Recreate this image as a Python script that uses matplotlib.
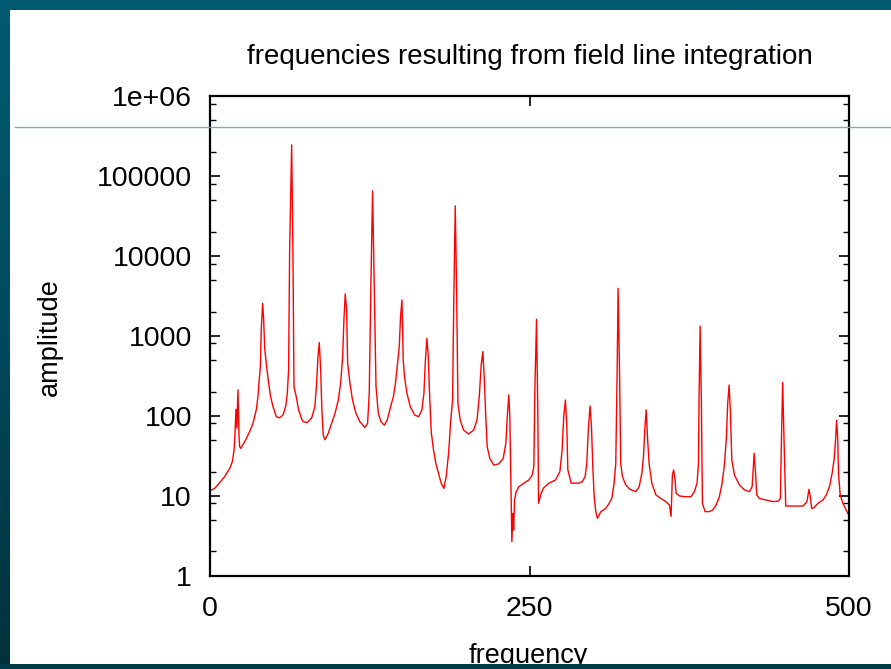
import matplotlib
matplotlib.use("Agg")
import matplotlib.pyplot as plt
import numpy as np
from matplotlib.colors import LinearSegmentedColormap
from matplotlib.patches import Rectangle
from matplotlib.lines import Line2D
from matplotlib.ticker import FixedLocator, NullFormatter

title = "frequencies resulting from field line integration"
x_label = "frequency"
y_label = "amplitude"
x_ticks = [0, 250, 500]
y_ticks = [1, 10, 100, 1000, 10000, 100000, 1000000]
y_tick_labels = ["1", "10", "100", "1000", "10000", "100000", "1e+06"]

frequency = [
    0, 3.6, 7.6, 11.5, 15.4, 17.5, 18.8, 19.5, 20.3, 21.0, 21.9, 22.6, 23.2, 24.0,
    27.1, 31.0, 33.6, 36.2, 37.5, 38.3, 39.4, 40.1, 41.2, 42.0, 42.8, 44.3, 45.9,
    47.4, 49.3, 51.9, 54.5, 57.1, 59.2, 60.5, 61.5, 62.3, 63.9, 64.9, 65.7, 67.5,
    69.3, 71.9, 73.0, 76.1, 79.5, 82.1, 83.4, 84.5, 85.5, 86.6, 87.6, 88.6, 89.9,
    92.5, 95.1, 97.8, 100.4, 102.2, 103.8, 104.8, 105.8, 106.9, 107.7, 109.5,
    111.5, 114.2, 117.3, 121.2, 123.3, 124.6, 125.9, 127.2, 128.5, 129.9, 131.7,
    133.8, 136.4, 138.7, 141.3, 143.5, 145.2, 146.2, 148.1, 149.1, 150.2, 151.2,
    152.2, 154.1, 156.7, 160.1, 163.2, 165.8, 167.4, 168.4, 169.7, 170.8, 171.6,
    173.1, 174.9, 176.8, 178.8, 180.9, 183.0, 184.8, 186.7, 188.2, 189.8, 190.8,
    191.9, 193.0, 194.0, 195.8, 198.4, 202.3, 206.3, 208.9, 210.7, 212.2, 213.5,
    214.6, 215.9, 216.9, 219.0, 222.1, 226.0, 229.4, 231.5, 232.6, 233.8, 234.6,
    235.2, 236.2, 237.0, 237.6, 238.3, 239.6, 241.7, 245.6, 249.5, 252.1, 253.4,
    254.2, 255.5, 256.5, 257.1, 258.7, 260.7, 265.2, 270.4, 273.8, 275.5, 276.8,
    278.1, 279.2, 280.0, 282.6, 288.6, 291.4, 293.5, 294.8, 296.1, 297.4, 298.5,
    299.5, 300.6, 301.9, 303.2, 305.8, 309.7, 312.3, 314.4, 316.2, 317.5, 318.6,
    319.3, 320.4, 321.4, 322.7, 325.3, 328.5, 333.1, 335.8, 337.9, 339.2, 340.2,
    341.3, 342.3, 343.6, 345.7, 348.9, 352.8, 356.7, 359.5, 360.8, 361.8, 362.8,
    363.9, 364.7, 367.3, 371.2, 376.4, 379.0, 381.1, 382.2, 382.7, 383.5, 384.5,
    385.3, 387.4, 390.8, 393.4, 396.0, 398.6, 400.7, 402.6, 404.1, 405.1, 406.2,
    407.2, 408.3, 410.4, 414.3, 418.2, 422.1, 424.2, 425.0, 425.8, 426.8, 427.8,
    429.9, 432.5, 435.4, 440.6, 444.5, 446.3, 447.1, 448.1, 449.2, 450.5, 456.2,
    464.0, 467.1, 468.7, 469.7, 470.8, 472.3, 475.7, 479.6, 482.2, 484.7, 486.8,
    488.4, 489.5, 490.3, 491.1, 491.8, 493.1, 495.2, 497.8, 500.0,
]
amplitude = [
    11.5, 12.3, 14.5, 17.3, 21.9, 26.6, 37, 57, 120, 70, 210, 60, 41, 39,
    47, 63, 80, 118, 173, 254, 411, 1180, 2550, 1580, 700, 411, 254,
    173, 130, 97, 94, 102, 130, 191, 373, 11300, 244000, 11300, 231, 173,
    118, 90, 84, 82, 93, 130, 254, 548, 820, 373, 112, 57, 50,
    60, 80, 107, 157, 254, 548, 1580, 3330, 2100, 453, 254,
    157, 107, 84, 71, 80, 191, 4330, 64900, 4330, 231, 107,
    84, 76, 88, 130, 173, 260, 373, 731, 1740, 2800, 498,
    308, 191, 130, 102, 97, 118, 191, 453, 930, 548, 220,
    63, 37, 25, 19, 14.3, 12.3, 17.3, 34, 80, 157, 3090,
    42200, 3400, 143, 88, 66, 59, 66, 88, 173, 431, 633,
    294, 88, 41, 29, 24, 25, 29, 45, 97, 182, 97,
    25, 2.65, 6.0, 3.7, 8.8, 11.2, 12.9, 14.3, 15.7, 18.1, 23,
    210, 1610, 112, 8.0, 10.2, 12.3, 14.3, 15.7, 20, 37, 97,
    157, 73, 21, 14.3, 14.3, 15, 17.3, 25, 70, 132, 73,
    24, 9.7, 6.3, 5.2, 6.3, 6.9, 8.0, 9.2, 14.3, 25, 373,
    3930, 411, 25, 17.3, 13.6, 12.0, 11.2, 12.9, 19, 31, 66,
    118, 55, 25, 14.3, 10.2, 9.2, 8.4, 7.6, 5.5, 18, 21,
    15.7, 10.7, 9.9, 9.7, 9.7, 11.2, 14.3, 25, 173, 1320, 143,
    8.0, 6.3, 6.3, 6.6, 7.6, 9.7, 14.3, 25, 55, 143, 242,
    112, 28, 18, 13.6, 11.8, 11.2, 12.9, 21, 34, 20, 10.2,
    9.2, 9.0, 8.8, 8.4, 8.5, 9.2, 47, 261, 47, 7.4, 7.4,
    7.4, 8.4, 12.0, 9.7, 6.9, 7.0, 8.0, 8.8, 10.2, 12.9, 19,
    29, 50, 88, 55, 19, 10.2, 8.0, 6.6, 5.6,
]

W, H = 891, 669
plt.rcParams["font.family"] = ["Liberation Sans", "DejaVu Sans"]
fig = plt.figure(figsize=(W / 100, H / 100), dpi=100)

# background frame
bg = fig.add_axes([0, 0, 1, 1], zorder=-10)
cmap = LinearSegmentedColormap.from_list("frame", ["#005b72", "#004a5c", "#00313c"])
grad = np.linspace(0, 1, 256).reshape(-1, 1)
bg.imshow(grad, aspect="auto", cmap=cmap, extent=[0, 1, 0, 1], origin="upper")
bg.add_patch(Rectangle((10 / W, 1 - 664 / H), 1, (664 - 10) / H,
                       facecolor="white", edgecolor="none"))
bg.set_xlim(0, 1)
bg.set_ylim(0, 1)
bg.axis("off")

left, right, top, bottom = 210, 849, 96, 575.5
ax = fig.add_axes([left / W, 1 - bottom / H, (right - left) / W, (bottom - top) / H])
ax.plot(frequency, amplitude, color="#ff0000", lw=1.0)
ax.set_yscale("log")
ax.set_xlim(0, 500)
ax.set_ylim(1, 1e6)
ax.xaxis.set_major_locator(FixedLocator(x_ticks))
ax.yaxis.set_major_locator(FixedLocator(y_ticks))
ax.set_yticklabels(y_tick_labels)
minors = [m * 10 ** e for e in range(0, 6) for m in (2, 5, 8)]
ax.yaxis.set_minor_locator(FixedLocator(minors))
ax.yaxis.set_minor_formatter(NullFormatter())
ax.xaxis.set_minor_locator(FixedLocator([]))
ax.tick_params(axis="both", which="major", direction="in", length=7, width=1.2,
               labelsize=20.5, top=True, right=True, colors="black")
ax.tick_params(axis="y", which="minor", direction="in", length=4, width=1.0,
               left=True, right=True)
ax.tick_params(axis="y", which="major", pad=13)
ax.tick_params(axis="x", which="major", pad=15)
for s in ax.spines.values():
    s.set_linewidth(1.6)
    s.set_color("black")
ax.set_facecolor("white")

fig.text((left + right) / 2 / W, 1 - 57 / H, title, ha="center", va="center", fontsize=20)
fig.text(50 / W, 1 - 337 / H, y_label, rotation=90, ha="center", va="center", fontsize=19.5)
fig.text(528 / W, 1 - 656 / H, x_label, ha="center", va="center", fontsize=19.5)

# thin horizontal rule across the slide
fig.add_artist(Line2D([15 / W, 1], [1 - 127 / H, 1 - 127 / H], color="#7fa9b5", lw=1.0,
                      transform=fig.transFigure, zorder=20))
# bottom frame band over the label
fig.add_artist(Rectangle((0, 0), 1, 1 - 664 / H, transform=fig.transFigure,
                         facecolor="#003a47", edgecolor="none", zorder=15))

fig.savefig("out.png", dpi=100)
